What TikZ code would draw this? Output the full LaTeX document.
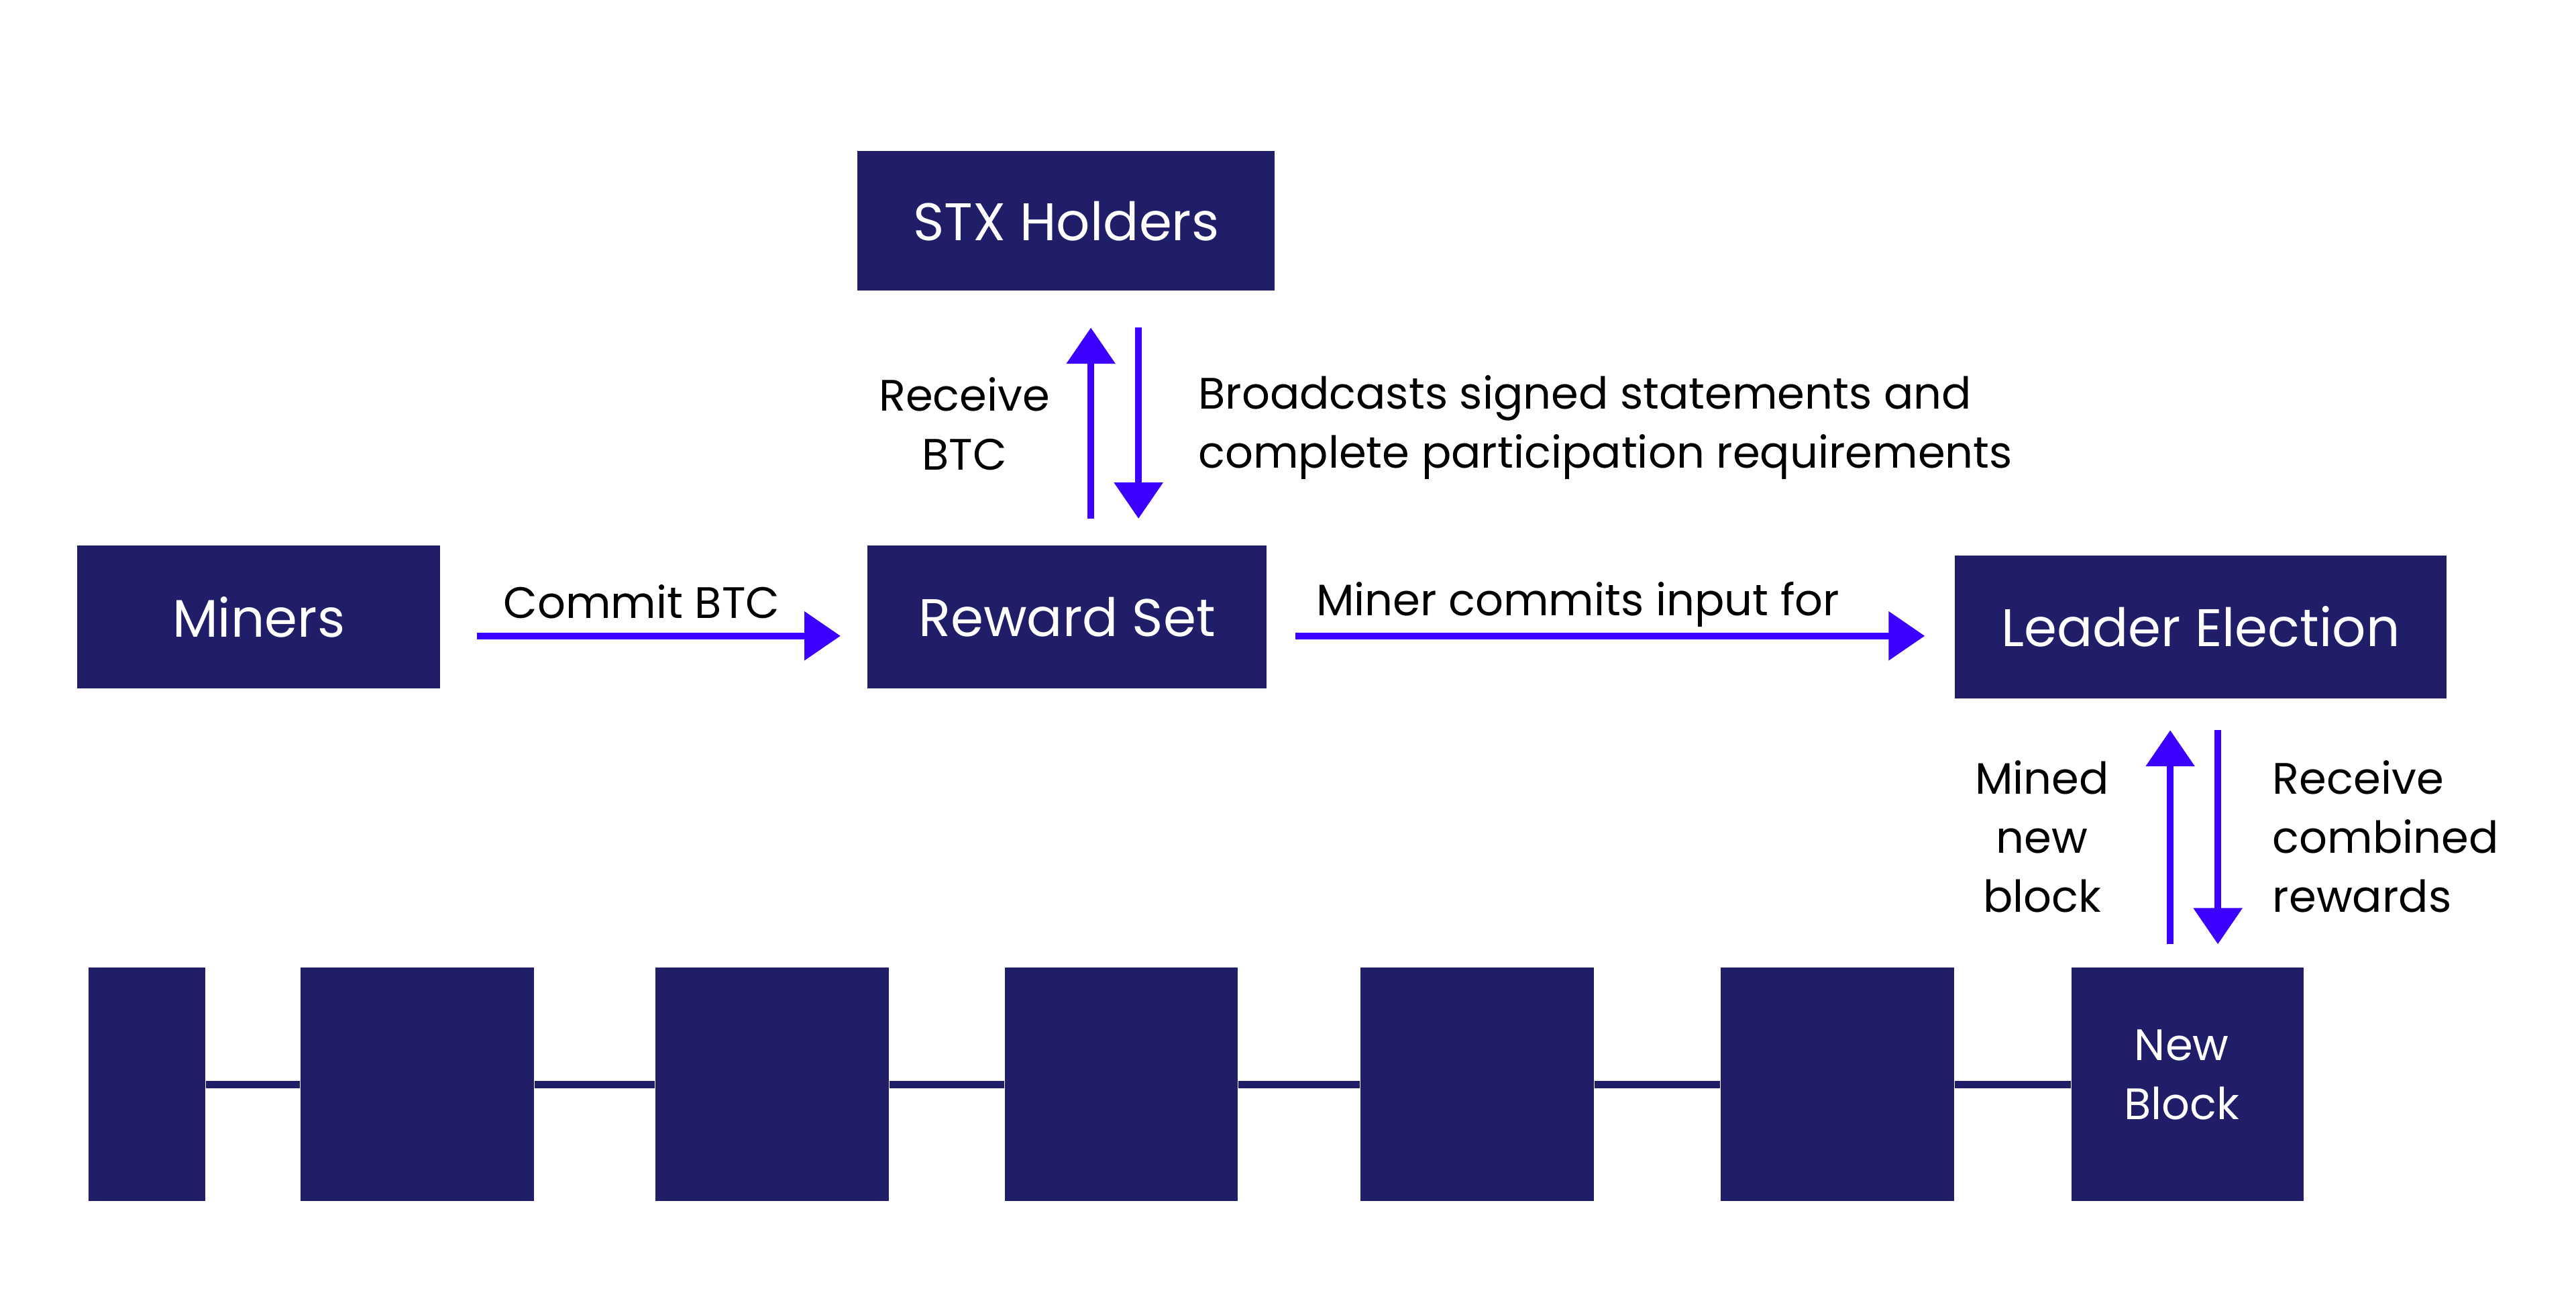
\documentclass[tikz,border=0pt]{standalone}
\usepackage{fontspec}
\setmainfont{Poppins}
\usetikzlibrary{arrows.meta}
\definecolor{boxc}{HTML}{211E69}
\definecolor{arrc}{HTML}{3B00FF}
\tikzset{
  boxnode/.style={fill=boxc, draw=none, text=white, inner sep=0pt, align=center,
    font=\fontsize{16.1}{18}\selectfont},
  blocknode/.style={fill=boxc, draw=none, inner sep=0pt, minimum height=71pt},
  whitelbl/.style={inner sep=0pt, text=white, align=center, font=\fontsize{13.4}{18}\selectfont},
  lbl/.style={inner sep=0pt, text=black, font=\fontsize{13.4}{18}\selectfont},
  arr/.style={draw=arrc, line width=2pt, -{Triangle[length=11pt,width=14.5pt]}},
  chain/.style={draw=boxc, line width=2.3pt}
}
\begin{document}
\begin{tikzpicture}[x=0.5pt,y=-0.5pt]
\useasboundingbox (0,0) rectangle (1568,794);
% main boxes
\node[boxnode, minimum width=127pt, minimum height=42.5pt] (stx) at (649,134.5) {STX Holders};
\node[boxnode, minimum width=110.5pt, minimum height=43.5pt] (miners) at (157.5,375.5) {Miners};
\node[boxnode, minimum width=121.5pt, minimum height=43.5pt] (reward) at (649.5,375.5) {Reward Set};
\node[boxnode, minimum width=149.5pt, minimum height=43.5pt] (leader) at (1339.5,381.5) {Leader Election};
% blockchain
\node[blocknode, minimum width=35.5pt] (b0) at (89.5,660) {};
\node[blocknode, minimum width=71pt] (b1) at (254,660) {};
\node[blocknode, minimum width=71pt] (b2) at (470,660) {};
\node[blocknode, minimum width=71pt] (b3) at (682.5,660) {};
\node[blocknode, minimum width=71pt] (b4) at (899,660) {};
\node[blocknode, minimum width=71pt] (b5) at (1118.5,660) {};
\node[blocknode, minimum width=70.5pt] (b6) at (1331.5,660) {};
\node[whitelbl] (newblock) at ([shift={(-3.5,-6)}]b6.center) {New\\Block};
\draw[chain] (b0.east) -- (b1.west);
\draw[chain] (b1.east) -- (b2.west);
\draw[chain] (b2.east) -- (b3.west);
\draw[chain] (b3.east) -- (b4.west);
\draw[chain] (b4.east) -- (b5.west);
\draw[chain] (b5.east) -- (b6.west);
% arrows
\draw[arr] ([shift={(22,11.5)}]miners.east) -- ([shift={(-16,11.5)}]reward.west);
\draw[arr] ([shift={(17,11.5)}]reward.east) -- ([shift={(-18,5.5)}]leader.west);
\draw[arr] ([shift={(15,-16)}]reward.north -| stx.south) -- ([shift={(15,22)}]stx.south);
\draw[arr] ([shift={(44,22)}]stx.south) -- ([shift={(44,-16)}]reward.north -| stx.south);
\draw[arr] ([shift={(-18.5,-14)}]b6.north -| leader.south) -- ([shift={(-18.5,19)}]leader.south);
\draw[arr] ([shift={(10.5,19)}]leader.south) -- ([shift={(10.5,-14)}]b6.north -| leader.south);
% labels
\node[lbl] (lcommit) at (390.5,366) {Commit BTC};
\node[lbl] (lminer) at (960.5,368) {Miner commits input for};
\node[lbl, align=center] (lrecbtc) at (587,258) {Receive\\BTC};
\node[lbl, align=left, anchor=west] (lbroad) at (729,260) {Broadcasts signed statements and\\complete participation requirements};
\node[lbl, align=center] (lmined) at (1243,509) {Mined\\new\\block};
\node[lbl, align=left, anchor=west] (lrecv) at (1383,509) {Receive\\combined\\rewards};
\end{tikzpicture}
\end{document}
